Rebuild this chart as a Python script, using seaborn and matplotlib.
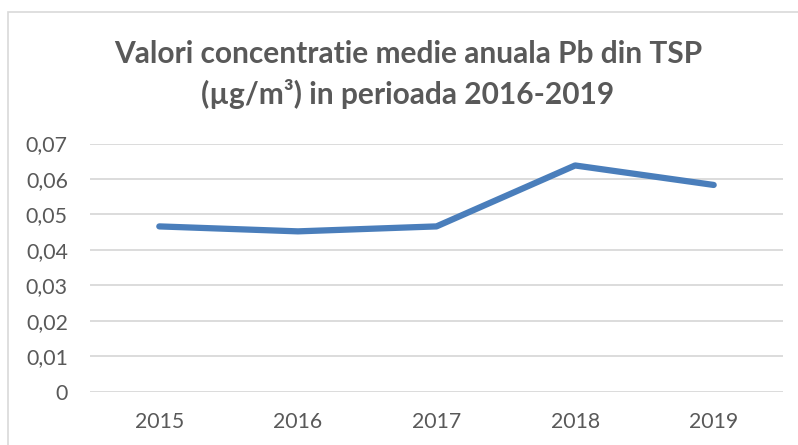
import matplotlib
matplotlib.use("Agg")
import matplotlib.pyplot as plt
import matplotlib.patches as mpatches
import seaborn as sns
import pandas as pd

years = ["2015", "2016", "2017", "2018", "2019"]
values = [0.0466, 0.0452, 0.0466, 0.0638, 0.0583]
y_ticks = [0, 0.01, 0.02, 0.03, 0.04, 0.05, 0.06, 0.07]
title = "Valori concentratie medie anuala Pb din TSP\n(µg/m³) in perioada 2016-2019"

sns.set_style("white")
plt.rcParams["font.family"] = ["Lato", "DejaVu Sans"]

df = pd.DataFrame({"an": years, "valoare": values})

fig = plt.figure(figsize=(7.98, 4.45), dpi=100)
ax = fig.add_axes([90 / 798, (445 - 391.5) / 445, 693 / 798, (391.5 - 143.5) / 445])

# chart border like the Excel chart area
fig.patches.append(mpatches.Rectangle((8 / 798, -0.1), 1.0, (445 - 12) / 445 + 0.1,
                                      transform=fig.transFigure, fill=False,
                                      edgecolor="#d9d9d9", linewidth=1.2))

sns.lineplot(data=df, x="an", y="valoare", ax=ax, color="#4a7ebb",
             linewidth=4.5, solid_capstyle="round", solid_joinstyle="round", sort=False)

ax.set_xlim(-0.5, len(years) - 0.5)
ax.set_ylim(0, 0.07)
ax.set_yticks(y_ticks)
ax.set_yticklabels([("0" if v == 0 else f"{v:.2f}".replace(".", ",")) for v in y_ticks])
ax.grid(axis="y", color="#d9d9d9", linewidth=1.3)
ax.set_axisbelow(True)
for s in ax.spines.values():
    s.set_visible(False)
ax.tick_params(axis="both", length=0, labelsize=15.3, colors="#595959")
ax.tick_params(axis="y", pad=16)
ax.tick_params(axis="x", pad=15)
ax.set_xlabel("")
ax.set_ylabel("")

fig.text(0.511, 1 - 74.5 / 445, title, ha="center", va="center", fontsize=21.5,
         fontweight="bold", color="#595959", linespacing=1.45)

fig.savefig("out.png", dpi=100)
